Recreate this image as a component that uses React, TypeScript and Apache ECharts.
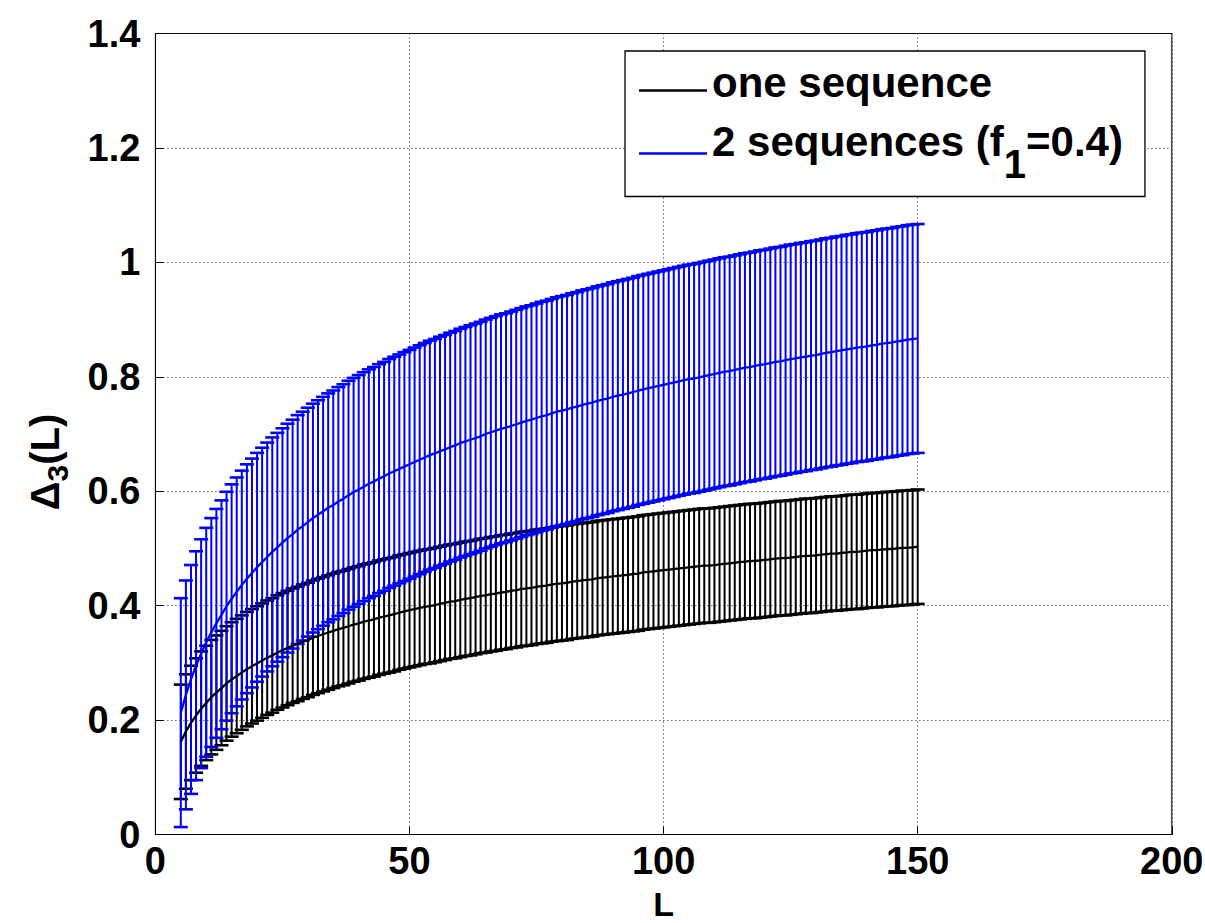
import React, { useEffect, useRef } from "react";
import * as echarts from "echarts";

// L values: every integer window length from 5 to 150
const L_START = 5;
const L_END = 150;
const L_VALUES: number[] = [];
for (let l = L_START; l <= L_END; l++) L_VALUES.push(l);

const X_MIN = 0;
const X_MAX = 200;
const X_STEP = 50;
const Y_MIN = 0;
const Y_MAX = 1.4;
const Y_STEP = 0.2;

// "one sequence" mean Δ3(L), L = 5..150
const ONE_SEQ_MEAN = [
  0.162, 0.180, 0.195, 0.208, 0.220, 0.230, 0.240, 0.248, 0.256, 0.264,
  0.271, 0.277, 0.283, 0.289, 0.294, 0.299, 0.304, 0.309, 0.313, 0.318,
  0.322, 0.326, 0.330, 0.333, 0.337, 0.340, 0.344, 0.347, 0.350, 0.353,
  0.356, 0.359, 0.361, 0.364, 0.367, 0.369, 0.372, 0.374, 0.376, 0.379,
  0.381, 0.383, 0.385, 0.388, 0.390, 0.392,
  0.394, 0.396, 0.398, 0.399, 0.401, 0.403, 0.405, 0.407, 0.408, 0.410,
  0.412, 0.413, 0.415, 0.417, 0.418, 0.420, 0.421, 0.423, 0.424, 0.426,
  0.427, 0.429, 0.430, 0.431, 0.433, 0.434, 0.435, 0.437, 0.438, 0.439,
  0.440, 0.442, 0.443, 0.444, 0.445, 0.446, 0.448, 0.449, 0.450, 0.451,
  0.452, 0.453, 0.454, 0.455, 0.456, 0.458, 0.459, 0.460, 0.461, 0.462,
  0.463, 0.464, 0.465, 0.466, 0.467, 0.468, 0.469, 0.470, 0.470, 0.471,
  0.472, 0.473, 0.474, 0.475, 0.476, 0.477, 0.478, 0.478, 0.479, 0.480,
  0.481, 0.482, 0.483, 0.483, 0.484, 0.485, 0.486, 0.487, 0.487, 0.488,
  0.489, 0.490, 0.491, 0.491, 0.492, 0.493, 0.494, 0.494, 0.495, 0.496,
  0.497, 0.497, 0.498, 0.499, 0.499, 0.500, 0.501, 0.501, 0.502, 0.503,
];
const ONE_SEQ_ERR = 0.1;

// "2 sequences (f1=0.4)" mean Δ3(L), L = 5..150
const TWO_SEQ_MEAN = [
  0.213, 0.244, 0.271, 0.295, 0.316, 0.336, 0.353, 0.369, 0.384, 0.399,
  0.412, 0.424, 0.436, 0.447, 0.457, 0.467, 0.476, 0.485, 0.494, 0.502,
  0.510, 0.518, 0.525, 0.533, 0.539, 0.546, 0.553, 0.559, 0.565, 0.571,
  0.576, 0.582, 0.587, 0.593, 0.598, 0.603, 0.608, 0.613, 0.617, 0.622,
  0.626, 0.631, 0.635, 0.639, 0.643, 0.647,
  0.651, 0.655, 0.659, 0.663, 0.666, 0.670, 0.673, 0.677, 0.680, 0.684,
  0.687, 0.690, 0.693, 0.696, 0.700, 0.703, 0.706, 0.709, 0.711, 0.714,
  0.717, 0.720, 0.723, 0.725, 0.728, 0.731, 0.733, 0.736, 0.739, 0.741,
  0.743, 0.746, 0.748, 0.751, 0.753, 0.755, 0.758, 0.760, 0.762, 0.765,
  0.767, 0.769, 0.771, 0.773, 0.776, 0.778, 0.780, 0.782, 0.784, 0.786,
  0.788, 0.790, 0.792, 0.794, 0.796, 0.797, 0.799, 0.801, 0.803, 0.805,
  0.807, 0.809, 0.810, 0.812, 0.814, 0.816, 0.817, 0.819, 0.821, 0.822,
  0.824, 0.826, 0.827, 0.829, 0.831, 0.832, 0.834, 0.835, 0.837, 0.838,
  0.840, 0.842, 0.843, 0.845, 0.846, 0.848, 0.849, 0.851, 0.852, 0.853,
  0.855, 0.856, 0.858, 0.859, 0.860, 0.862, 0.863, 0.865, 0.866, 0.867,
];
const TWO_SEQ_ERR = 0.2;

const NAME_ONE = "one sequence";
const NAME_TWO = "2 sequences (f1=0.4)";

const FONT = '"Liberation Sans", Arial, Helvetica, sans-serif';
const BLACK = "#000000";
const BLUE = "#0000ff";

function errorBars(name: string, mean: number[], err: number, color: string) {
  return {
    type: "custom",
    name,
    silent: true,
    data: L_VALUES.map((l, i) => [l, mean[i] - err, mean[i] + err]),
    encode: { x: 0, y: [1, 2] },
    renderItem: (_params: any, api: any) => {
      const x = api.value(0);
      const lo = api.coord([x, api.value(1)]);
      const hi = api.coord([x, api.value(2)]);
      const cap = 7;
      return {
        type: "group",
        children: [
          {
            type: "line",
            shape: { x1: lo[0], y1: lo[1], x2: hi[0], y2: hi[1] },
            style: { stroke: color, lineWidth: 2 },
          },
          {
            type: "line",
            shape: { x1: hi[0] - cap, y1: hi[1], x2: hi[0] + cap, y2: hi[1] },
            style: { stroke: color, lineWidth: 2.6 },
          },
          {
            type: "line",
            shape: { x1: lo[0] - cap, y1: lo[1], x2: lo[0] + cap, y2: lo[1] },
            style: { stroke: color, lineWidth: 2.6 },
          },
        ],
      };
    },
  };
}

function meanLine(name: string, mean: number[], color: string) {
  return {
    type: "line",
    name,
    silent: true,
    data: L_VALUES.map((l, i) => [l, mean[i]]),
    showSymbol: false,
    symbol: "none",
    color,
    itemStyle: { color },
    lineStyle: { color, width: 2.3 },
  };
}

export default function App() {
  const ref = useRef<HTMLDivElement>(null);

  useEffect(() => {
    if (!ref.current) return;
    const chart = echarts.init(ref.current, undefined, { renderer: "svg" });
    const labelStyle = {
      fontFamily: FONT,
      fontWeight: "bold" as const,
      color: BLACK,
    };
    const gridLine = {
      show: true,
      lineStyle: { color: "#222", width: 1, type: [1, 3] as any },
    };
    chart.setOption({
      animation: false,
      backgroundColor: "#ffffff",
      grid: {
        left: 155.4,
        right: 33.2,
        top: 33.5,
        bottom: 88.5,
        outerBoundsMode: "none",
        containLabel: false,
        show: true,
        borderColor: BLACK,
        borderWidth: 1,
        backgroundColor: "transparent",
      },
      legend: {
        data: [
          { name: NAME_ONE, icon: "rect" },
          { name: NAME_TWO, icon: "rect" },
        ],
        orient: "vertical",
        left: 625,
        top: 51,
        itemWidth: 68,
        itemHeight: 2.5,
        itemGap: 8,
        padding: [10, 22, 13, 14],
        borderColor: BLACK,
        borderWidth: 1.3,
        backgroundColor: "#ffffff",
        selectedMode: false,
        formatter: (name: string) =>
          name === NAME_ONE
            ? "{a|one sequence}"
            : "{m|2 sequences (f}{s|1}{m|=0.4)}",
        textStyle: {
          ...labelStyle,
          fontSize: 42,
          lineHeight: 44,
          rich: {
            a: {
              ...labelStyle,
              fontSize: 42,
              lineHeight: 44,
              height: 27,
              verticalAlign: "top",
            },
            m: {
              ...labelStyle,
              fontSize: 42,
              lineHeight: 44,
              height: 20,
              verticalAlign: "top",
            },
            s: {
              ...labelStyle,
              fontSize: 40,
              lineHeight: 44,
              height: 24,
              verticalAlign: "bottom",
            },
          },
        },
      },
      xAxis: {
        type: "value",
        min: X_MIN,
        max: X_MAX,
        interval: X_STEP,
        name: "L",
        nameLocation: "middle",
        nameGap: 52,
        nameMoveOverlap: false,
        nameTextStyle: { ...labelStyle, fontSize: 34 },
        axisLine: { show: true, onZero: false, lineStyle: { color: BLACK, width: 1 } },
        axisTick: { show: true, inside: true, length: 8, lineStyle: { color: BLACK } },
        axisLabel: { ...labelStyle, fontSize: 38, margin: 7 },
        splitLine: gridLine,
      },
      yAxis: {
        type: "value",
        min: Y_MIN,
        max: Y_MAX,
        interval: Y_STEP,
        name: "{m|Δ}{s|3}{m|(L)}",
        nameLocation: "middle",
        nameGap: 88,
        nameMoveOverlap: false,
        nameRotate: 90,
        nameTextStyle: {
          ...labelStyle,
          fontSize: 40,
          padding: [0, 56, 0, 0],
          rich: {
            m: { ...labelStyle, fontSize: 40, lineHeight: 44 },
            s: {
              ...labelStyle,
              fontSize: 30,
              lineHeight: 14,
              padding: [24, 0, 0, 0],
            },
          },
        },
        axisLine: { show: true, onZero: false, lineStyle: { color: BLACK, width: 1 } },
        axisTick: { show: true, inside: true, length: 8, lineStyle: { color: BLACK } },
        axisLabel: { ...labelStyle, fontSize: 38, margin: 15 },
        splitLine: gridLine,
      },
      series: [
        errorBars("one sequence bars", ONE_SEQ_MEAN, ONE_SEQ_ERR, BLACK),
        meanLine(NAME_ONE, ONE_SEQ_MEAN, BLACK),
        errorBars("2 sequences bars", TWO_SEQ_MEAN, TWO_SEQ_ERR, BLUE),
        meanLine(NAME_TWO, TWO_SEQ_MEAN, BLUE),
      ],
    });
    return () => chart.dispose();
  }, []);

  return (
    <div
      ref={ref}
      style={{ position: "fixed", left: 0, top: 0, width: 1205, height: 923 }}
    />
  );
}
